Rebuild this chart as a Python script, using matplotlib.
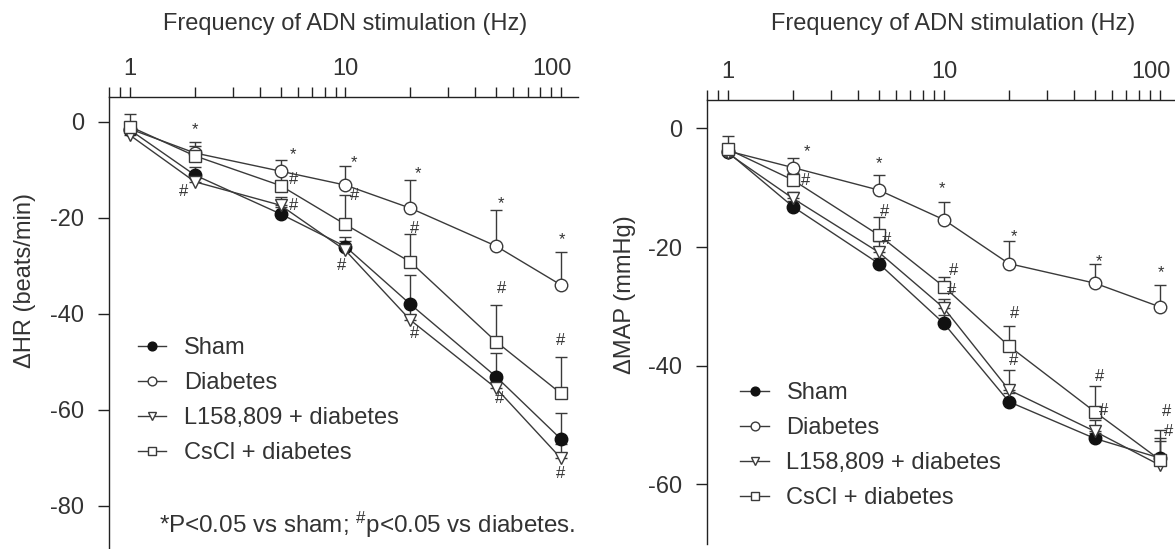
import numpy as np
import matplotlib
matplotlib.use('Agg')
import matplotlib.pyplot as plt
from matplotlib.transforms import ScaledTranslation

plt.rcParams['font.family'] = ['Liberation Sans', 'DejaVu Sans']
plt.rcParams['mathtext.fontset'] = 'custom'
plt.rcParams['mathtext.rm'] = 'Liberation Sans'
plt.rcParams['mathtext.it'] = 'Liberation Sans'

# Частоты стимуляции (Гц)
freq = [1, 2, 5, 10, 20, 50, 100]
groups = ['Sham', 'Diabetes', 'L158,809 + diabetes', 'CsCl + diabetes']

# ΔHR (уд/мин), средние и SEM (вверх)
hr_sham = [-1.7, -11.1, -19.2, -26.0, -38.0, -53.1, -66.1]
hr_diab = [-1.5, -6.5, -10.3, -13.2, -18.0, -25.9, -34.0]
hr_l158 = [-2.8, -12.5, -17.4, -26.8, -41.3, -55.5, -70.1]
hr_cscl = [-1.0, -7.1, -13.3, -21.4, -29.2, -45.8, -56.6]
hr_sham_err = [1.0, 1.6, 1.5, 2.0, 6.0, 5.0, 5.5]
hr_diab_err = [1.0, 1.5, 2.3, 4.0, 5.8, 7.6, 6.9]
hr_l158_err = [1.0, 1.0, 1.8, 2.0, 3.0, 3.0, 3.0]
hr_cscl_err = [2.6, 2.8, 3.3, 6.1, 5.8, 7.6, 7.5]

# ΔMAP (мм рт. ст.)
map_sham = [-4.0, -13.2, -22.8, -32.9, -46.1, -52.3, -55.6]
map_diab = [-3.8, -6.6, -10.4, -15.4, -22.8, -26.1, -30.1]
map_l158 = [-4.2, -11.8, -20.9, -30.3, -44.1, -51.1, -56.8]
map_cscl = [-3.5, -8.7, -18.0, -26.7, -36.7, -47.8, -55.9]
map_sham_err = [1.0, 1.0, 1.0, 1.5, 1.5, 1.0, 3.3]
map_diab_err = [1.0, 1.7, 2.5, 3.0, 3.8, 3.3, 3.7]
map_l158_err = [1.0, 1.0, 1.9, 1.5, 3.4, 2.0, 4.0]
map_cscl_err = [2.2, 1.2, 3.1, 1.7, 3.4, 4.4, 5.0]

# Значки достоверности: (частота, y, символ)
hr_marks = [(2.0, -1.7, '*'), (1.78, -14.6, '#'), (5.73, -6.9, '*'), (5.73, -12.1, '#'),
            (5.73, -17.4, '#'), (10.98, -8.5, '*'), (10.98, -15.3, '#'), (9.6, -29.9, '#'),
            (21.6, -10.8, '*'), (20.97, -22.2, '#'), (20.97, -44.1, '#'), (52.8, -17.0, '*'),
            (52.8, -34.7, '#'), (51.7, -57.6, '#'), (100.6, -24.6, '*'), (100.0, -45.5, '#'),
            (100.0, -73.3, '#')]
map_marks = [(2.32, -3.9, '*'), (2.28, -8.7, '#'), (5.03, -6.0, '*'), (5.31, -14.0, '#'),
             (5.45, -18.8, '#'), (9.8, -10.1, '*'), (11.08, -23.9, '#'), (10.9, -27.3, '#'),
             (21.0, -18.3, '*'), (21.2, -31.2, '#'), (21.0, -39.1, '#'), (52.5, -22.5, '*'),
             (52.8, -41.9, '#'), (54.8, -47.6, '#'), (101.0, -24.4, '*'), (107.7, -47.8, '#'),
             (109.5, -51.1, '#')]

line_c = '#3a3a3a'
text_c = '#333333'
styles = [dict(marker='o', mfc='#111111', mec='#111111'),
          dict(marker='o', mfc='white', mec=line_c),
          dict(marker='v', mfc='white', mec=line_c),
          dict(marker='s', mfc='white', mec=line_c)]

W, H = 1175, 549
fig = plt.figure(figsize=(W / 100, H / 100), dpi=100)


def px_axes(l, r, t, b):
    return fig.add_axes([l / W, (H - b) / H, (r - l) / W, (b - t) / H])


def draw_panel(ax, series, errs, marks, ylim, yticks, ylabel, ylab_pos, title_y, title_x, leg_pos):
    for vals, err, st, name in zip(series, errs, styles, groups):
        ax.errorbar(freq, vals, yerr=[np.zeros(len(err)), err], fmt='none', ecolor=line_c,
                    elinewidth=1.0, capsize=4, capthick=1.0, zorder=2)
        ax.plot(freq, vals, color=line_c, lw=1.0, ms=9, mew=1.0, label=name, zorder=3, **st)
    for fx, fy, s in marks:
        ax.text(fx, fy, s, ha='center', va='center', fontsize=12, color=text_c)
    ax.set_xscale('log')
    ax.set_xlim(0.8, 120)
    ax.set_ylim(*ylim)
    ax.set_yticks(yticks)
    ax.set_yticklabels([str(v) for v in yticks])
    ax.set_xticks([1, 10, 100])
    ax.set_xticklabels(['1', '10', '100'])
    ax.spines['right'].set_visible(False)
    ax.spines['bottom'].set_visible(False)
    for sp in ax.spines.values():
        sp.set_linewidth(1.0)
        sp.set_color('#222222')
    ax.xaxis.set_ticks_position('top')
    ax.xaxis.set_label_position('top')
    ax.tick_params(axis='x', which='both', direction='out', length=7.5, width=1.0,
                   color='#222222', labelsize=17, labelcolor=text_c, pad=4.5)
    ax.tick_params(axis='y', direction='out', length=8, width=1.0, color='#222222',
                   labelsize=17, labelcolor=text_c, pad=10)
    # метка "100" в оригинале чуть сдвинута влево
    lab100 = ax.get_xticklabels()[2]
    lab100.set_transform(lab100.get_transform() + ScaledTranslation(-9 / 100, 0, fig.dpi_scale_trans))
    ax.set_xlabel('Frequency of ADN stimulation (Hz)', fontsize=17, color=text_c)
    ax.xaxis.set_label_coords(title_x, title_y)
    ax.set_ylabel(ylabel, fontsize=17, color=text_c)
    ax.yaxis.set_label_coords(*ylab_pos)
    ax.patch.set_alpha(0)
    leg = ax.legend(loc='upper left', bbox_to_anchor=leg_pos, frameon=False, fontsize=17,
                    handlelength=1.2, handletextpad=0.75, labelspacing=0.55, borderpad=0,
                    borderaxespad=0, markerscale=0.7)
    for t in leg.get_texts():
        t.set_color(text_c)


ax1 = px_axes(109, 578, 97, 549)
draw_panel(ax1, [hr_sham, hr_diab, hr_l158, hr_cscl],
           [hr_sham_err, hr_diab_err, hr_l158_err, hr_cscl_err], hr_marks,
           (-89, 5.15), [0, -20, -40, -60, -80], '\u0394HR (beats/min)',
           (-0.156, 0.595), 1.148, 0.503, (0.062, 0.468))
ax1.text(0.107, 0.053, '*P<0.05 vs sham; $^{\\#}$p<0.05 vs diabetes.', transform=ax1.transAxes,
         ha='left', va='center', fontsize=17.4, color=text_c)

ax2 = px_axes(707, 1177, 100, 544)
draw_panel(ax2, [map_sham, map_diab, map_l158, map_cscl],
           [map_sham_err, map_diab_err, map_l158_err, map_cscl_err], map_marks,
           (-70.1, 4.8), [0, -20, -40, -60], '\u0394MAP (mmHg)',
           (-0.152, 0.561), 1.158, 0.524, (0.071, 0.364))

fig.savefig('out.png', dpi=100)
